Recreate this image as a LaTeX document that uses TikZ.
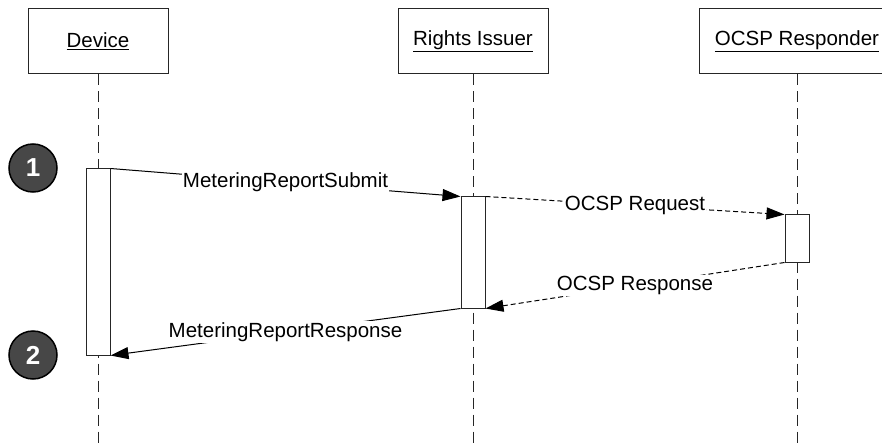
\documentclass[tikz,border=0pt]{standalone}
\usepackage{fontspec}
\setmainfont{Liberation Sans}
\usetikzlibrary{arrows.meta, positioning}

\begin{document}
\begin{tikzpicture}[
    x=1pt, y=-1pt,
    every node/.style={font=\fontsize{20.5}{24}\selectfont},
    actor/.style={
        rectangle,
        minimum height=65pt,
        text centered,
        draw=black!85,
        line width=1pt,
        fill=white
    },
    bar/.style={
        rectangle,
        minimum width=24pt,
        draw=black!85,
        line width=1pt,
        fill=white,
        inner sep=0pt
    },
    badge/.style={
        circle,
        minimum size=48pt,
        inner sep=0pt,
        fill=black!72,
        draw=black,
        line width=1.5pt,
        text=white,
        font=\fontsize{26}{30}\selectfont\bfseries
    },
    lifeline/.style={line width=1pt, color=black!85, dash pattern=on 11pt off 6pt},
    call/.style={line width=1pt, ->, >={Triangle[length=18pt, width=12pt]}, color=black},
    reply/.style={call, dash pattern=on 5pt off 3pt},
    msg/.style={midway, fill=white, inner sep=1pt}
]
    \clip (0,0) rectangle (882,446);

    % Define nodes
    \node (device) [actor, minimum width=140pt] at (98,41.5) {\underline{Device}};
    \node (issuer) [actor, minimum width=150pt, right=229pt of device] {\underline{Rights Issuer}};
    \node (ocsp) [actor, minimum width=196pt, right=150pt of issuer] {\underline{OCSP Responder}};
    \coordinate (bottom) at (0,446);

    % Lifelines
    \draw [lifeline] (device.south) -- (device |- bottom);
    \draw [lifeline] (issuer.south) -- (issuer |- bottom);
    \draw [lifeline] (ocsp.south) -- (ocsp |- bottom);

    % Activation bars
    \node (devbar) [bar, minimum height=186pt, below=94pt of device] {};
    \node (issbar) [bar, minimum height=111pt, below=122pt of issuer] {};
    \node (ocspbar) [bar, minimum height=47pt, below=140pt of ocsp] {};

    % Step markers
    \node (one) [badge] at (33,168) {1};
    \node (two) [badge] at (33,355) {2};

    % Draw connections
    \draw [call] (devbar.north east) -- (issbar.north west)
        node [msg] {MeteringReportSubmit};
    \draw [reply] (issbar.north east) -- (ocspbar.north west)
        node [msg] {OCSP Request};
    \draw [reply] (ocspbar.south west) -- (issbar.south east)
        node [msg] {OCSP Response};
    \draw [call] (issbar.south west) -- (devbar.south east)
        node [msg] {MeteringReportResponse};

\end{tikzpicture}
\end{document}
